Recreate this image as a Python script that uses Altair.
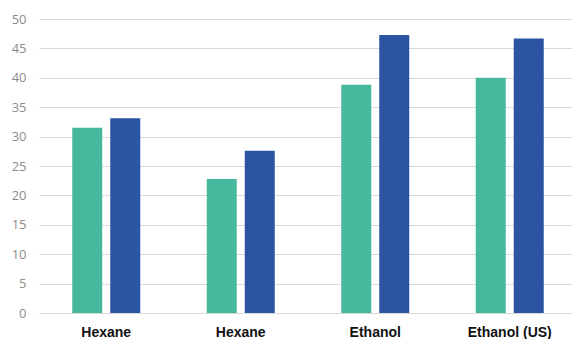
import json
import altair as alt
import pandas as pd

categories = ["Hexane", "Hexane", "Ethanol", "Ethanol (US)"]
series_names = ["Series 1", "Series 2"]
series1 = [31.5, 22.8, 38.8, 40.0]
series2 = [33.1, 27.6, 47.3, 46.7]
y_ticks = [0, 5, 10, 15, 20, 25, 30, 35, 40, 45, 50]

rows = []
for i, cat in enumerate(categories):
    rows.append({"idx": i, "series": series_names[0], "value": series1[i]})
    rows.append({"idx": i, "series": series_names[1], "value": series2[i]})
df = pd.DataFrame(rows)

label_expr = json.dumps(categories) + "[datum.value]"

chart = alt.Chart(df).mark_bar().encode(
    x=alt.X("idx:O", title=None,
            scale=alt.Scale(paddingInner=0, paddingOuter=0, range=[1, 539]),
            axis=alt.Axis(labelExpr=label_expr, labelAngle=0, ticks=False, domain=False,
                          labelFont="Liberation Sans", labelFontWeight="bold", labelFontSize=14,
                          labelColor="#111111", labelPadding=12, grid=False)),
    xOffset=alt.XOffset("series:N", sort=series_names,
                        scale=alt.Scale(paddingInner=0.2105, paddingOuter=0.875)),
    y=alt.Y("value:Q", title=None,
            scale=alt.Scale(domain=[0, 50], nice=False),
            axis=alt.Axis(values=y_ticks, ticks=False, domain=False, gridColor="#d9d9d9",
                          gridWidth=1.2, labelFont="Open Sans", labelFontSize=13,
                          labelColor="#8c8c8c", labelPadding=12)),
    color=alt.Color("series:N", sort=series_names, legend=None,
                    scale=alt.Scale(domain=series_names, range=["#47b79d", "#2b54a3"])),
).properties(
    width=534, height=294,
    autosize=alt.AutoSizeParams(type="none"),
    padding={"left": 38, "top": 19, "right": 0, "bottom": 26},
).configure(background="white", view=alt.ViewConfig(stroke=None))

chart.save("out.html", embed_options={"renderer": "svg", "actions": False})
